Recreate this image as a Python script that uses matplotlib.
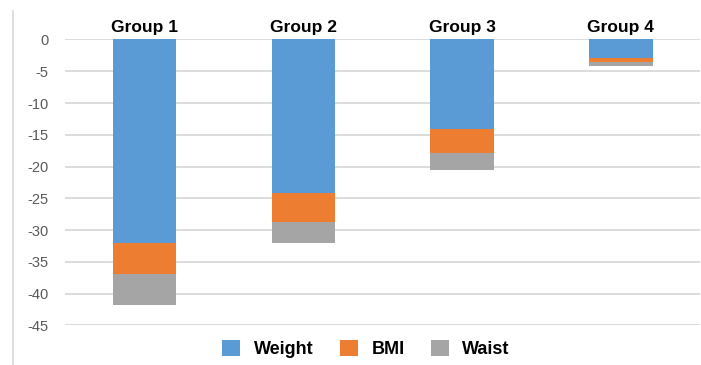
import matplotlib
matplotlib.use("Agg")
import matplotlib.pyplot as plt
from matplotlib.lines import Line2D
from matplotlib.patches import Patch
import numpy as np

plt.rcParams['font.family'] = ['Liberation Sans', 'DejaVu Sans']

groups = ["Group 1", "Group 2", "Group 3", "Group 4"]
weight = [-32.1, -24.2, -14.1, -2.9]
bmi = [-4.9, -4.6, -3.8, -0.6]
waist = [-4.8, -3.2, -2.6, -0.7]
yticks = [0, -5, -10, -15, -20, -25, -30, -35, -40, -45]

colors = {"Weight": "#5B9BD5", "BMI": "#ED7D31", "Waist": "#A5A5A5"}

fig = plt.figure(figsize=(7.01, 3.65), dpi=100)
ax = fig.add_axes([0.093, 0.1088, 0.906, 0.783])

x = np.arange(len(groups))
w = 0.4
ax.bar(x, weight, w, color=colors["Weight"], zorder=3)
ax.bar(x, bmi, w, bottom=weight, color=colors["BMI"], zorder=3)
bottom2 = np.array(weight) + np.array(bmi)
ax.bar(x, waist, w, bottom=bottom2, color=colors["Waist"], zorder=3)

ax.set_xlim(-0.5, 3.5)
ax.set_ylim(-45, 0)
ax.set_yticks(yticks)
ax.set_yticklabels([str(t) for t in yticks])
ax.yaxis.grid(True, color="#D9D9D9", linewidth=1.3, zorder=0)
ax.set_axisbelow(True)
ax.tick_params(axis="y", length=0, pad=12, labelsize=10.5, labelcolor="#595959")

ax.xaxis.tick_top()
ax.set_xticks(x)
ax.set_xticklabels(groups, fontweight="bold", fontsize=12.5)
ax.tick_params(axis="x", length=0, pad=3)

for s in ax.spines.values():
    s.set_visible(False)

# left border line of the chart area
fig.add_artist(Line2D([0.0185, 0.0185], [0.0, 0.97], color="#D9D9D9", linewidth=1.2))

handles = [Patch(facecolor=colors[k], label=k) for k in ["Weight", "BMI", "Waist"]]
fig.legend(handles=handles, loc="center", bbox_to_anchor=(0.522, 0.043), ncol=3,
           frameon=False, prop={"weight": "bold", "size": 13},
           handlelength=1.0, handleheight=1.0, columnspacing=1.45, handletextpad=0.75)

fig.savefig("out.png", dpi=100)
